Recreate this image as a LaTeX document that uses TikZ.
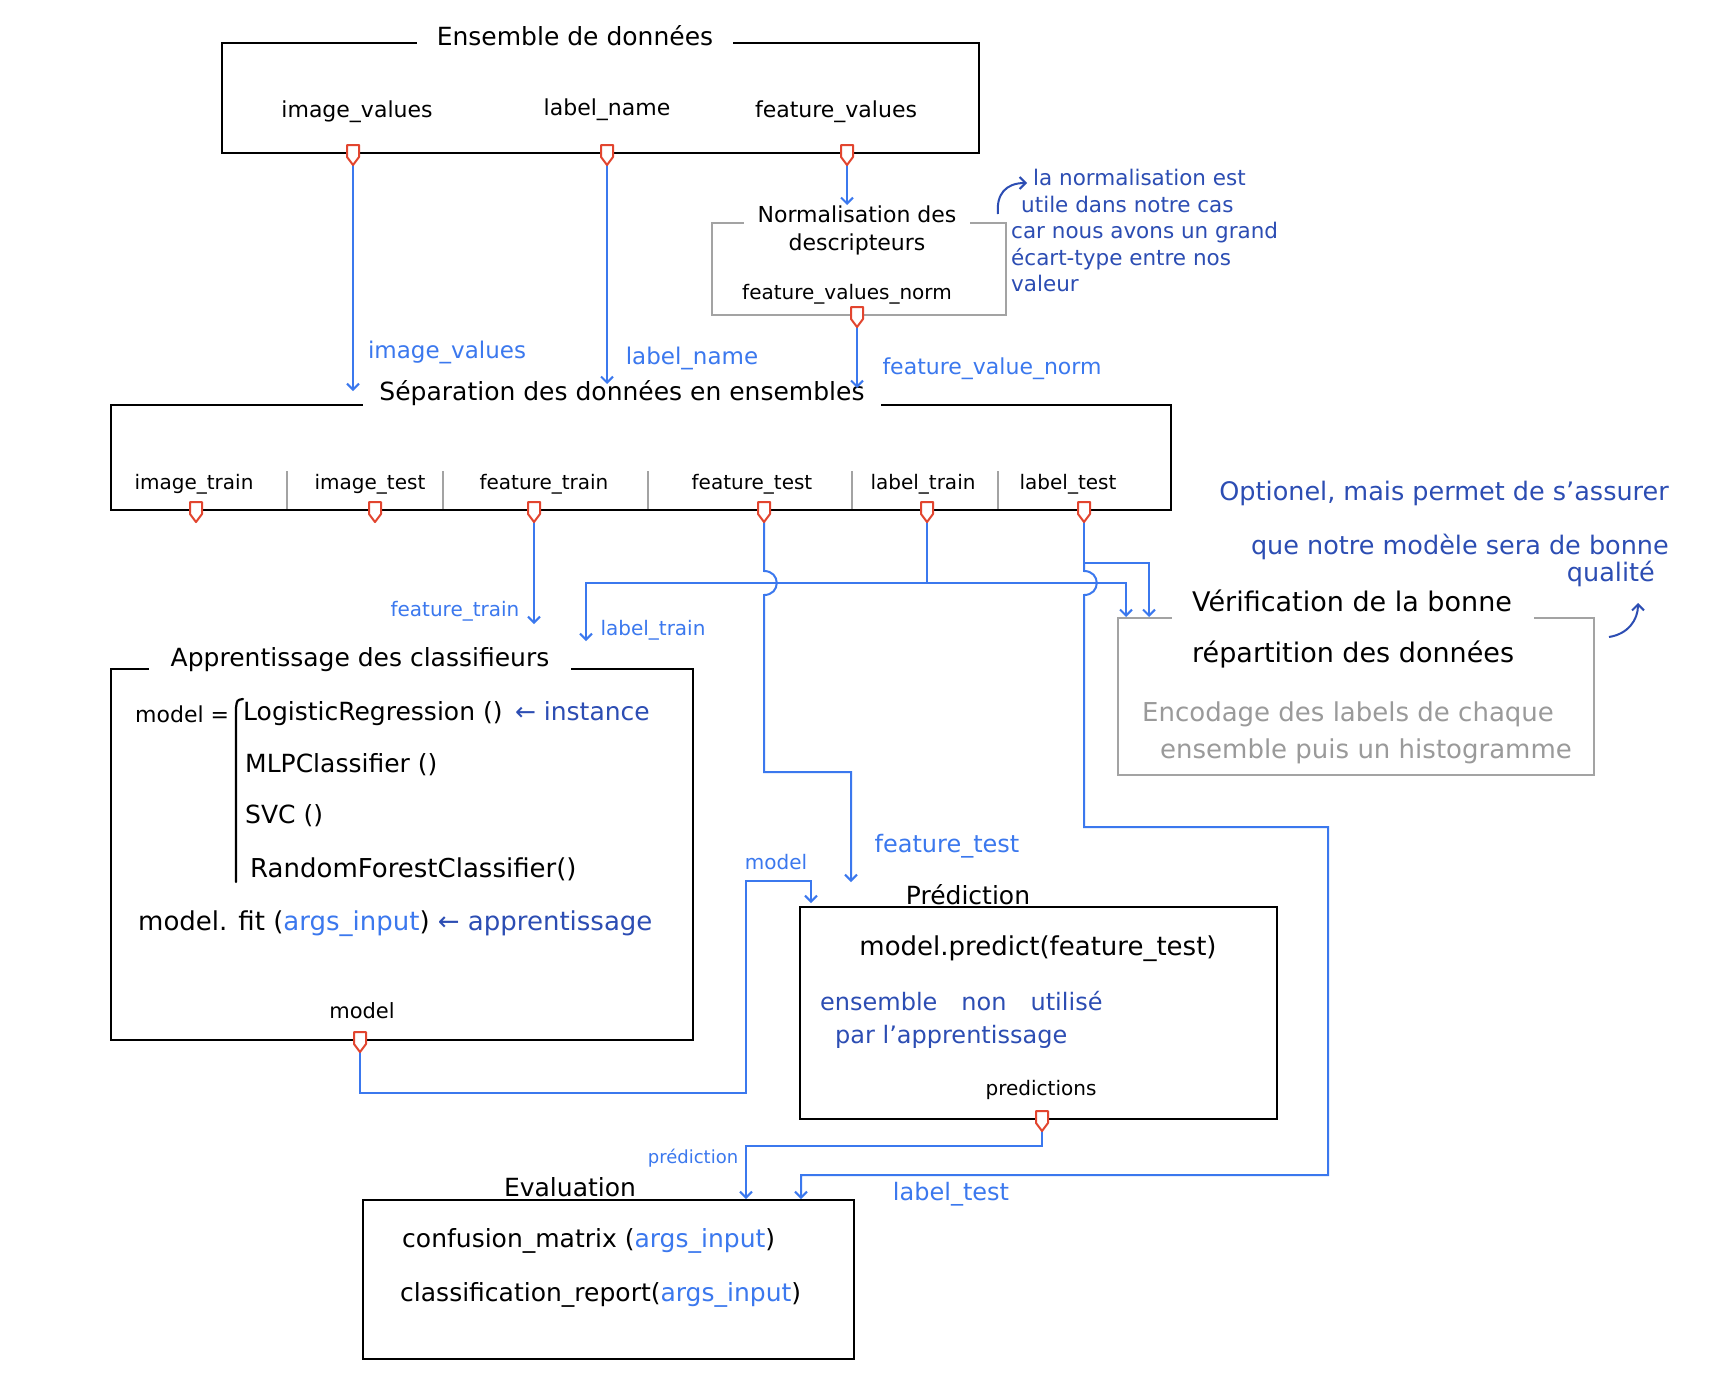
\documentclass[tikz,border=0pt]{standalone}
\usepackage{fontspec}
\setmainfont{DejaVu Sans}
\usetikzlibrary{arrows.meta}
\definecolor{cblue}{HTML}{3B78EE}
\definecolor{nblue}{HTML}{2C4DB3}
\definecolor{pred}{HTML}{E2452F}
\definecolor{gline}{HTML}{A3A3A3}
\definecolor{gtext}{HTML}{9A9A9A}
\newcommand{\fsz}[1]{\fontsize{#1}{#1}\selectfont}
\begin{document}
\begin{tikzpicture}[x=1pt,y=-1pt,
  box/.style={draw=black, line width=2.4pt, inner sep=0pt, anchor=north west},
  gbox/.style={draw=gline, line width=2.4pt, inner sep=0pt, anchor=north west},
  ttl/.style={fill=white, inner xsep=16pt, inner ysep=1pt, font=\fsz{25}},
  txt/.style={inner sep=0pt, font=\fsz{22}},
  coltxt/.style={inner sep=0pt, font=\fsz{20}},
  lbl/.style={inner sep=0pt, text=cblue, font=\fsz{20}},
  note/.style={inner sep=0pt, text=nblue},
  conn/.style={draw=cblue, line width=2pt},
  arr/.style={conn, -{Straight Barb[length=6pt,width=12pt]}},
  narr/.style={draw=nblue, line width=2pt, -{Straight Barb[length=6pt,width=12pt]}},
  divider/.style={draw=gline, line width=1.4pt},
  port/.pic={\draw[draw=pred, line width=2pt, fill=white, line join=round] (-6,-7) -- (6,-7) -- (6,5) -- (0,13) -- (-6,5) -- cycle;}
]
\useasboundingbox (0,0) rectangle (1718,1392);
\fill[white] (0,0) rectangle (1718,1392);

% ---------- coordinates ----------
\coordinate (pIV) at (353,165);
\coordinate (pLN) at (607,165);
\coordinate (pFV) at (847,165);
\coordinate (aNorm) at (847,205);
\coordinate (pFVN) at (857,327);
\coordinate (aIV) at (353,391);
\coordinate (aLN) at (607,384);
\coordinate (aFVN) at (857,388);

\coordinate (pFtr) at (534,522);
\coordinate (pFte) at (764,522);
\coordinate (pLtr) at (927,522);
\coordinate (pLte) at (1084,522);

\coordinate (aFtr) at (534,624);
\coordinate (jLtr) at (927,583);
\coordinate (cLtrL) at (586,583);
\coordinate (aLtrL) at (586,641);
\coordinate (cLtrR) at (1126,583);
\coordinate (aLtrR) at (1126,617);

\coordinate (bFte1) at (764,571);
\coordinate (bFte2) at (764,595);
\coordinate (cFte1) at (764,772);
\coordinate (cFte2) at (851,772);
\coordinate (aFte) at (851,882);

\coordinate (jLte) at (1084,563);
\coordinate (cLteB) at (1149,563);
\coordinate (aLteB) at (1149,617);
\coordinate (bLte1) at (1084,571);
\coordinate (bLte2) at (1084,595);
\coordinate (cLte1) at (1084,827);
\coordinate (cLte2) at (1328,827);
\coordinate (cLte3) at (1328,1175);
\coordinate (cLte4) at (801,1175);
\coordinate (aLte) at (801,1199);

\coordinate (pModel) at (360,1052);
\coordinate (cM1) at (360,1093);
\coordinate (cM2) at (746,1093);
\coordinate (cM3) at (746,881);
\coordinate (cM4) at (811,881);
\coordinate (aM) at (811,903);

\coordinate (pPred) at (1042,1131);
\coordinate (cP1) at (1042,1146);
\coordinate (cP2) at (746,1146);
\coordinate (aP) at (746,1199);

% ---------- Ensemble de donnees ----------
\node[box, minimum width=757pt, minimum height=110pt] (ens) at (221,42) {};
\node[ttl, inner xsep=20pt] (ensT) at (575,36) {Ensemble de données};
\node[txt] (ensIV) at (357,112) {image\_values};
\node[txt] (ensLN) at (607,110) {label\_name};
\node[txt] (ensFV) at (836,112) {feature\_values};

% ---------- Normalisation ----------
\node[gbox, minimum width=294pt, minimum height=92pt] (norm) at (711,222) {};
\node[ttl, align=center, font=\fontsize{22}{28}\selectfont, inner xsep=14pt] (normT) at (857,230) {Normalisation des\\descripteurs};
\node[txt, font=\fsz{20}] (normFVN) at (847,294) {feature\_values\_norm};

\node[note, anchor=north west, align=left, font=\fontsize{21.5}{26.5}\selectfont] (noteN) at (1011,169)
  {\hspace*{22pt}la normalisation est\\\hspace*{10pt}utile dans notre cas\\car nous avons un grand\\écart-type entre nos\\valeur};

% ---------- Separation ----------
\node[box, minimum width=1060pt, minimum height=105pt] (sepB) at (110,404) {};
\node[ttl, inner xsep=16pt] (sepT) at (622,393) {Séparation des données en ensembles};
\draw[divider] (287,471) -- (287,509);
\draw[divider] (443,471) -- (443,509);
\draw[divider] (648,471) -- (648,509);
\draw[divider] (852,471) -- (852,509);
\draw[divider] (998,471) -- (998,509);
\node[coltxt] (cItr) at (194,484) {image\_train};
\node[coltxt] (cIte) at (370,484) {image\_test};
\node[coltxt] (cFtr) at (544,484) {feature\_train};
\node[coltxt] (cFte) at (752,484) {feature\_test};
\node[coltxt] (cLtr) at (923,484) {label\_train};
\node[coltxt] (cLte) at (1068,484) {label\_test};

\node[lbl, font=\fsz{23}] (lIV) at (447,352) {image\_values};
\node[lbl, font=\fsz{23}] (lLN) at (692,358) {label\_name};
\node[lbl, font=\fsz{22}] (lFVN) at (992,369) {feature\_value\_norm};

% ---------- Verification ----------
\node[gbox, minimum width=476pt, minimum height=157pt] (ver) at (1117,617) {};
\node[ttl, anchor=north west, align=left, font=\fontsize{27}{51}\selectfont, inner xsep=20pt] (verT) at (1172,589) {Vérification de la bonne\\répartition des données};
\node[txt, text=gtext, font=\fsz{26}] (verL1) at (1348,714) {Encodage des labels de chaque};
\node[txt, text=gtext, font=\fsz{26}] (verL2) at (1366,751) {ensemble puis un histogramme};
\node[note, anchor=north east, align=right, font=\fontsize{25.5}{54}\selectfont] (noteV) at (1669,481)
  {Optionel, mais permet de s’assurer\\que notre modèle sera de bonne\\[-27pt]qualité\hspace*{14pt}};

% ---------- Apprentissage ----------
\node[box, minimum width=582pt, minimum height=371pt] (app) at (110,668) {};
\node[ttl, inner xsep=22pt] (appT) at (360,660) {Apprentissage des classifieurs};
\node[txt, anchor=west] (appM) at (135,714) {model =};
\draw[line width=2.2pt, line cap=round] (243,699) .. controls (237,700) .. (236,708) -- (236,882);
\node[txt, anchor=west, font=\fsz{25}] (appL1) at (243,714) {LogisticRegression ()\enspace\textcolor{nblue}{← instance}};
\node[txt, anchor=west, font=\fsz{25}] (appL2) at (245,765) {MLPClassifier ()};
\node[txt, anchor=west, font=\fsz{25}] (appL3) at (245,816) {SVC ()};
\node[txt, anchor=west, font=\fsz{26}] (appL4) at (250,869) {RandomForestClassifier()};
\node[txt, anchor=west, font=\fsz{26}] (appL5) at (138,924) {model. fit (\textcolor{cblue}{args\_input}) \textcolor{nblue}{← apprentissage}};
\node[txt, font=\fsz{21}] (appMo) at (362,1011) {model};

% ---------- Prediction ----------
\node[box, minimum width=477pt, minimum height=212pt] (predB) at (799,906) {};
\node[ttl, inner xsep=30pt] (predT) at (968,895) {Prédiction};
\node[txt, font=\fsz{26}] (predL1) at (1038,949) {model.predict(feature\_test)};
\node[txt, text=nblue, anchor=west, font=\fsz{24}] (predL2) at (820,1001) {ensemble\quad non\quad utilisé};
\node[txt, text=nblue, anchor=west, font=\fsz{24}] (predL3) at (835,1037) {par l’apprentissage};
\node[txt, font=\fsz{20}] (predL4) at (1041,1090) {predictions};

% ---------- Evaluation ----------
\node[box, minimum width=491pt, minimum height=159pt] (evalB) at (362,1199) {};
\node[ttl, inner xsep=24pt] (evalT) at (570,1187) {Evaluation};
\node[txt, anchor=west, font=\fsz{25}] (evL1) at (402,1241) {confusion\_matrix (\textcolor{cblue}{args\_input})};
\node[txt, anchor=west, font=\fsz{25}] (evL2) at (400,1295) {classification\_report(\textcolor{cblue}{args\_input})};

% ---------- connector labels ----------
\node[lbl] (lFtr) at (455,611) {feature\_train};
\node[lbl] (lLtr) at (653,630) {label\_train};
\node[lbl, font=\fsz{24}] (lFte) at (947,846) {feature\_test};
\node[lbl] (lM) at (776,862) {model};
\node[lbl, font=\fsz{18}] (lP) at (693,1158) {prédiction};
\node[lbl, font=\fsz{24}] (lLte) at (951,1194) {label\_test};

% ---------- connectors ----------
\draw[arr] (pFV) -- (aNorm);
\draw[arr] (pIV) -- (aIV);
\draw[arr] (pLN) -- (aLN);
\draw[arr] (pFVN) -- (aFVN);
\draw[arr] (pFtr) -- (aFtr);
\draw[arr] (pLtr) -- (jLtr) -- (cLtrL) -- (aLtrL);
\draw[arr] (jLtr) -- (cLtrR) -- (aLtrR);
\draw[arr] (pFte) -- (bFte1) .. controls +(17,0) and +(17,0) .. (bFte2) -- (cFte1) -- (cFte2) -- (aFte);
\draw[arr] (pLte) -- (jLte) -- (cLteB) -- (aLteB);
\draw[arr] (jLte) -- (bLte1) .. controls +(17,0) and +(17,0) .. (bLte2) -- (cLte1) -- (cLte2) -- (cLte3) -- (cLte4) -- (aLte);
\draw[arr] (pModel) -- (cM1) -- (cM2) -- (cM3) -- (cM4) -- (aM);
\draw[arr] (pPred) -- (cP1) -- (cP2) -- (aP);

% note arrows
\coordinate (nA1) at (998,214);
\coordinate (nA2) at (1027,183);
\draw[narr] (nA1) .. controls (996,194) and (1006,183) .. (nA2);
\coordinate (vA1) at (1609,637);
\coordinate (vA2) at (1638,603);
\draw[narr] (vA1) .. controls (1628,634) and (1638,620) .. (vA2);

% ---------- ports ----------
\pic at (353,152) {port};
\pic at (607,152) {port};
\pic at (847,152) {port};
\pic at (857,314) {port};
\pic at (196,509) {port};
\pic at (375,509) {port};
\pic at (534,509) {port};
\pic at (764,509) {port};
\pic at (927,509) {port};
\pic at (1084,509) {port};
\pic at (360,1039) {port};
\pic at (1042,1118) {port};
\end{tikzpicture}
\end{document}
